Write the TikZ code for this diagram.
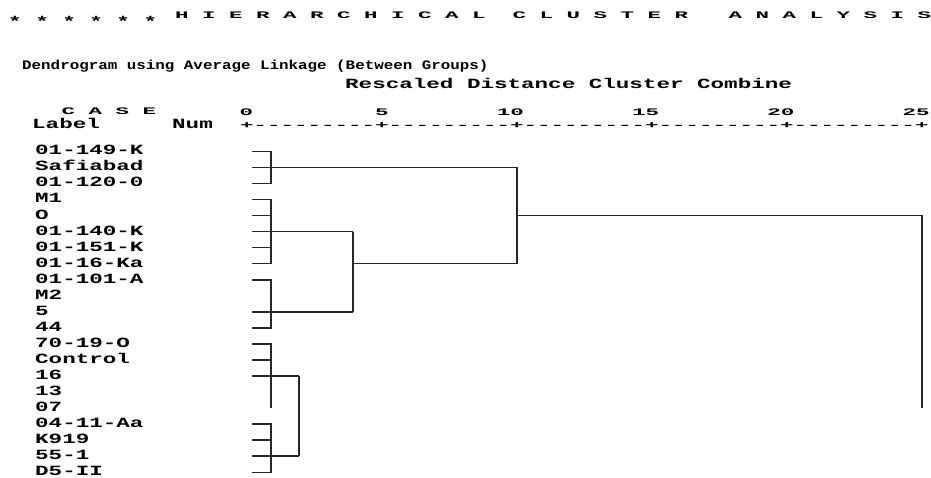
\documentclass[tikz,border=0pt]{standalone}
\usepackage{fontspec}
\newfontfamily\spssfont[FakeStretch=1.6]{Liberation Mono}
\newfontfamily\spsssmall[FakeStretch=2.25]{Liberation Mono}
\newfontfamily\spssnarrow[FakeStretch=1.22]{Liberation Mono}

\begin{document}
\begin{tikzpicture}[x=1pt,y=-1pt,
	txt/.style={inner sep=0pt,anchor=base west,font=\spssfont\bfseries\fontsize{14.1}{16}\selectfont},
	small/.style={inner sep=0pt,anchor=base west,font=\spsssmall\bfseries\fontsize{10}{12}\selectfont},
	tick/.style={small,anchor=base east},
	branch/.style={line width=1.6pt,black!85}]
	\useasboundingbox (0,0) rectangle (931,477);

	% headings
	\node[txt] (stars) at (8,26) {* * * * * *};
	\node[small] (title) at (175,18.5) {H I E R A R C H I C A L~~C L U S T E R~~~A N A L Y S I S};
	\node[inner sep=0pt,anchor=base west,font=\spssnarrow\bfseries\fontsize{13}{15}\selectfont] (method) at (22,69) {Dendrogram using Average Linkage (Between Groups)};
	\node[txt] (rescaled) at (345,88.5) {Rescaled Distance Cluster Combine};
	\node[small] (case) at (61.3,114) {C A S E};
	\node[txt] (label) at (32,128.5) {Label};
	\node[txt] (num) at (172,128.5) {Num};
	\foreach \v [count=\k from 0] in {0,5,10,15,20,25}
		\node[tick] (t\k) at ({253.4+135.3*\k},115) {\v};
	\node[small] (axis) at (240,128.3) {+---------+---------+---------+---------+---------+};

	% cases
	\foreach \lab [count=\i from 0] in {01-149-K,Safiabad,01-120-0,M1,O,01-140-K,01-151-K,01-16-Ka,01-101-A,M2,5,44,70-19-O,Control,16,13,07,04-11-Aa,K919,55-1,D5-II}{
		\node[txt] (l\i) at (35,{154.8+16.05*\i}) {\lab};
		\coordinate (s\i) at (252,{151.3+16.05*\i});
	}

	% join levels
	\coordinate (c0) at (271,0);
	\coordinate (c1) at (299,0);
	\coordinate (c2) at (353,0);
	\coordinate (c3) at (517,0);
	\coordinate (c4) at (922,0);

	\draw[branch] (s0) -- (s0 -| c0) -- (s2 -| c0) -- (s2);
	\draw[branch] (s1) -- (s1 -| c3);

	\draw[branch] (s3) -- (s3 -| c0) -- (s7 -| c0) -- (s7);
	\foreach \k in {4,6} \draw[branch] (s\k) -- (s\k -| c0);
	\draw[branch] (s5) -- (s5 -| c2);

	\draw[branch] (s8) -- (s8 -| c0) -- (s11 -| c0) -- (s11);
	\draw[branch] (s10) -- (s10 -| c2);

	\draw[branch] (s5 -| c2) -- (s10 -| c2);
	\draw[branch] (s7 -| c2) -- (s7 -| c3);
	\draw[branch] (s1 -| c3) -- (s7 -| c3);
	\draw[branch] (s4 -| c3) -- (s4 -| c4) -- (s16 -| c4);

	\draw[branch] (s12) -- (s12 -| c0) -- (s16 -| c0);
	\draw[branch] (s13) -- (s13 -| c0);
	\draw[branch] (s14) -- (s14 -| c1);

	\draw[branch] (s17) -- (s17 -| c0) -- (s20 -| c0) -- (s20);
	\draw[branch] (s18) -- (s18 -| c0);
	\draw[branch] (s19) -- (s19 -| c1);
	\draw[branch] (s14 -| c1) -- (s19 -| c1);
\end{tikzpicture}
\end{document}
